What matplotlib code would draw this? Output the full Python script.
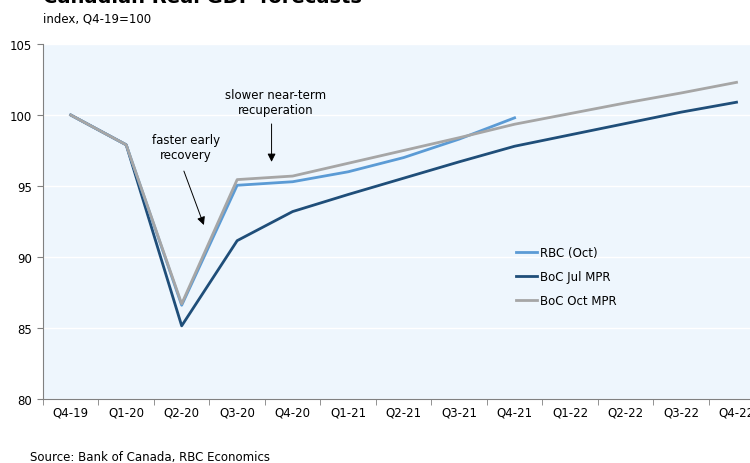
import numpy as np
import matplotlib.pyplot as plt

quarters = ["Q4-19", "Q1-20", "Q2-20", "Q3-20", "Q4-20", "Q1-21", "Q2-21",
            "Q3-21", "Q4-21", "Q1-22", "Q2-22", "Q3-22", "Q4-22"]
rbc_oct = [100, 97.9, 86.6, 95.05, 95.3, 96.0, 97.0, 98.3, 99.8]
boc_jul = [100, 97.9, 85.15, 91.15, 93.2, 94.4, 95.55, 96.7, 97.8, 98.6, 99.4, 100.2, 100.9]
boc_oct = [100, 97.9, 86.7, 95.45, 95.7, 96.6, 97.5, 98.4, 99.35, 100.1, 100.85, 101.55, 102.3]

plt.rcParams['font.family'] = 'DejaVu Sans'
fig = plt.figure(figsize=(7.5, 4.64), dpi=100)
ax = fig.add_axes([0.0573, 0.138, 1.019 - 0.0573, 0.903 - 0.138])
ax.set_facecolor("#eef6fd")

x = np.arange(len(quarters))
ax.plot(x[:len(boc_jul)], boc_jul, color="#1f4e79", lw=2.0, label="BoC Jul MPR", zorder=3)
ax.plot(x[:len(rbc_oct)], rbc_oct, color="#5b9bd5", lw=2.0, label="RBC (Oct)", zorder=4)
ax.plot(x[:len(boc_oct)], boc_oct, color="#a6a6a6", lw=2.0, label="BoC Oct MPR", zorder=5)

ax.set_xlim(-0.5, len(quarters) - 0.5)
ax.set_ylim(80, 105)
ax.set_yticks([80, 85, 90, 95, 100, 105])
ax.yaxis.grid(True, color="white", lw=1.0)
ax.set_axisbelow(True)

ax.set_xticks(x)
ax.set_xticklabels(quarters)
ax.set_xticks(np.arange(-0.5, len(quarters)), minor=True)
ax.tick_params(axis="x", which="major", length=0, pad=5, labelsize=8.5)
ax.tick_params(axis="x", which="minor", length=4, color="#808080")
ax.tick_params(axis="y", length=4, color="#808080", labelsize=8.5, pad=4)

for s in ["top", "right"]:
    ax.spines[s].set_visible(False)
for s in ["left", "bottom"]:
    ax.spines[s].set_color("#808080")

h, l = ax.get_legend_handles_labels()
order = [1, 0, 2]
ax.legend([h[i] for i in order], [l[i] for i in order], frameon=False,
          loc="center left", bbox_to_anchor=(0.641, 0.345), fontsize=8.5,
          handlelength=1.8, handletextpad=0.2, labelspacing=0.95)

# annotations
ax.text(2.07, 96.75, "faster early\nrecovery", ha="center", va="bottom", fontsize=8.5)
ax.annotate("", xy=(2.4, 92.25), xytext=(2.04, 96.05),
            arrowprops=dict(arrowstyle="-|>", color="black", lw=0.7,
                            mutation_scale=12, shrinkA=0, shrinkB=0))
ax.text(3.69, 99.9, "slower near-term\nrecuperation", ha="center", va="bottom", fontsize=8.5)
ax.annotate("", xy=(3.62, 96.7), xytext=(3.62, 99.37),
            arrowprops=dict(arrowstyle="-|>", color="black", lw=0.7,
                            mutation_scale=12, shrinkA=0, shrinkB=0))

fig.text(0.0573, 1.006, "Canadian Real GDP forecasts", fontsize=14, fontweight="bold", va="center")
fig.text(0.0573, 0.958, "index, Q4-19=100", fontsize=8.5, va="center")
fig.text(0.04, 0.013, "Source: Bank of Canada, RBC Economics", fontsize=8.5, va="center")

fig.savefig("out.png", dpi=100)
